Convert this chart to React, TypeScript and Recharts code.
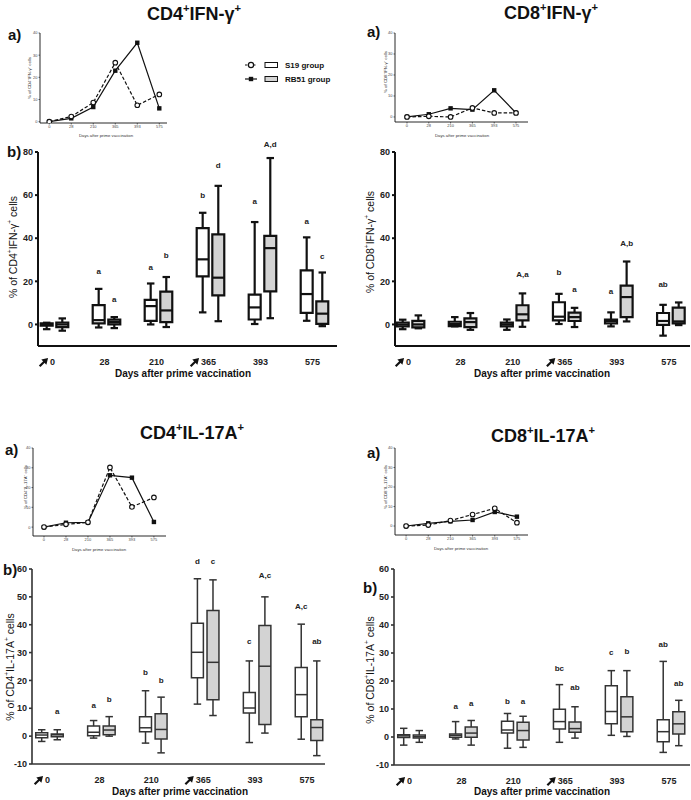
import React from 'react';
import {
  ComposedChart,
  LineChart,
  Line,
  XAxis,
  YAxis,
  Scatter,
  ReferenceArea,
  ReferenceLine,
  ReferenceDot,
} from 'recharts';

const FONT = '"Liberation Sans", Arial, Helvetica, sans-serif';

const dayLabels = ['0', '28', '210', '365', '393', '575'];
const boosterDays = ['0', '365'];
const groupNames = ['S19 group', 'RB51 group'];
const dayIdx = [0, 1, 2, 3, 4, 5];

// ---- a) small line charts (group values) ----
const cd4IfnS19Line = [0, 2.3, 8.6, 26.6, 7.4, 12.3];
const cd4IfnRB51Line = [0, 1.5, 6.6, 23.0, 35.6, 6.0];
const cd8IfnS19Line = [0, 0.3, 0, 4.3, 1.9, 1.9];
const cd8IfnRB51Line = [0, 1.3, 4.1, 3.5, 12.7, 1.9];
const cd4Il17S19Line = [0, 1.4, 2.4, 30.2, 10.2, 15.0];
const cd4Il17RB51Line = [0, 2.2, 2.4, 26.2, 25.0, 2.6];
const cd8Il17S19Line = [0, 0.5, 2.8, 5.9, 9.1, 1.7];
const cd8Il17RB51Line = [0, 1.4, 2.4, 3.1, 7.2, 4.8];

// ---- b) box plots: [min, q1, median, q3, max] per day ----
const cd4IfnS19Box = [
  [-2.2, -0.6, 0, 0.5, 0.8],
  [-1.4, 0.5, 2.0, 9.0, 16.5],
  [0, 1.7, 8.5, 11.4, 19.0],
  [5.6, 22.3, 30.2, 44.7, 51.8],
  [0.2, 2.3, 7.9, 13.8, 47.5],
  [1.7, 5.4, 14.1, 25.1, 40.4],
];
const cd4IfnRB51Box = [
  [-2.9, -1.2, 0, 0.9, 2.8],
  [-1.7, 0, 1.1, 2.2, 3.4],
  [-1.2, 1.1, 6.5, 15.2, 22.0],
  [1.5, 13.5, 21.7, 41.8, 64.3],
  [2.9, 15.3, 35.4, 41.1, 77.2],
  [-0.8, 0.3, 5.0, 10.7, 24.1],
];
const cd8IfnS19Box = [
  [-2.2, -0.9, 0, 0.9, 2.2],
  [-0.9, -0.8, 0.2, 1.25, 3.4],
  [-2.5, -0.9, 0, 0.8, 2.3],
  [0.2, 1.9, 3.6, 10.3, 14.2],
  [-0.9, 0.5, 1.6, 2.3, 5.6],
  [-5.2, -0.2, 1.6, 5.3, 9.1],
];
const cd8IfnRB51Box = [
  [-1.8, -1.4, 0, 1.7, 4.2],
  [-2.5, -1.2, 1.1, 2.8, 5.3],
  [-1.1, 1.9, 4.7, 8.9, 14.4],
  [-1.2, 1.6, 3.4, 5.5, 7.7],
  [1.4, 3.4, 12.7, 18.0, 29.2],
  [-0.3, 0.5, 1.4, 7.8, 10.2],
];
const cd4Il17S19Box = [
  [-1.9, -0.6, 0.4, 1.2, 2.3],
  [-0.7, 0.1, 1.4, 3.6, 5.6],
  [-2.5, 1.6, 3.0, 7.0, 16.3],
  [11.5, 21.0, 30.1, 40.5, 56.5],
  [-2.3, 8.3, 10.1, 15.7, 27.0],
  [-1.1, 7.0, 14.9, 24.6, 40.2],
];
const cd4Il17RB51Box = [
  [-1.3, -0.2, 0.5, 0.8, 2.3],
  [0, 0.5, 2.2, 3.6, 7.0],
  [-6.0, -1.0, 2.4, 8.0, 14.0],
  [7.4, 13.1, 26.5, 45.1, 56.1],
  [1.1, 4.2, 25.1, 39.7, 50.0],
  [-7.0, -1.6, 3.1, 5.9, 27.0],
];
const cd8Il17S19Box = [
  [-2.9, -0.2, 0.4, 0.8, 3.1],
  [-0.7, -0.1, 0.6, 1.1, 5.5],
  [-4.0, 1.4, 2.5, 5.6, 8.4],
  [-1.9, 2.9, 5.5, 9.9, 18.7],
  [0.6, 4.7, 9.1, 18.3, 23.7],
  [-5.5, -1.7, 1.9, 6.2, 27.0],
];
const cd8Il17RB51Box = [
  [-1.9, -0.4, 0.1, 0.7, 2.3],
  [-2.9, -0.1, 1.4, 3.6, 5.9],
  [-3.7, -1.1, 2.3, 5.3, 7.4],
  [-0.4, 1.7, 3.0, 5.4, 10.8],
  [0.2, 1.9, 7.2, 14.4, 23.7],
  [-3.1, 1.1, 4.7, 9.0, 13.1],
];

// ---- significance letters: [day index, group (0=S19, 1=RB51), y, text] ----
type Letter = [number, number, number, string];
const cd4IfnLetters: Letter[] = [
  [1, 0, 25, 'a'], [1, 1, 11.6, 'a'], [2, 0, 26.6, 'a'], [2, 1, 32.3, 'b'],
  [3, 0, 60.2, 'b'], [3, 1, 73.8, 'd'], [4, 0, 57.2, 'a'], [4, 1, 83.5, 'A,d'],
  [5, 0, 48.1, 'a'], [5, 1, 31.6, 'c'],
];
const cd8IfnLetters: Letter[] = [
  [2, 1, 23.3, 'A,a'], [3, 0, 24.2, 'b'], [3, 1, 16.4, 'a'], [4, 0, 15.6, 'a'],
  [4, 1, 37.6, 'A,b'], [5, 0, 18.6, 'ab'],
];
const cd4Il17Letters: Letter[] = [
  [0, 1, 9.1, 'a'], [1, 0, 11.2, 'a'], [1, 1, 13.4, 'b'], [2, 0, 23, 'b'],
  [2, 1, 20, 'b'], [3, 0, 62.7, 'd'], [3, 1, 62.7, 'c'], [4, 0, 34.2, 'c'],
  [4, 1, 57.9, 'A,c'], [5, 0, 46.8, 'A,c'], [5, 1, 34.2, 'ab'],
];
const cd8Il17Letters: Letter[] = [
  [1, 0, 11.1, 'a'], [1, 1, 12.3, 'a'], [2, 0, 13, 'b'], [2, 1, 12.9, 'a'],
  [3, 0, 24.7, 'bc'], [3, 1, 18, 'ab'], [4, 0, 30.4, 'c'], [4, 1, 30.8, 'b'],
  [5, 0, 33.2, 'ab'], [5, 1, 19.3, 'ab'],
];

const ticksIfn = [0, 20, 40, 60, 80];
const ticksIl17 = [-10, 0, 10, 20, 30, 40, 50, 60];
const ticksSmall = [0, 10, 20, 30, 40];

// geometry constants (in x-axis units)
const OFF = 0.15;
const HW = 0.115;
const CAP = 0.072;

type Rect = { l: number; r: number; t: number; b: number };

function DayTick(props: any) {
  const { x, y, payload } = props;
  const label = dayLabels[payload.value] ?? '';
  const hw = label.length * 2.5;
  return (
    <g transform={`translate(${x - 2},${y})`}>
      <text x={0} y={17} textAnchor="middle" fontSize={9} fontWeight="bold" fill="#222">
        {label}
      </text>
      {boosterDays.includes(label) && (
        <g transform={`translate(${-hw - 6.5},${14.5}) scale(1.2)`}>
          <path d="M3.8,-3.8 L-1.8,-2.4 L2.4,1.8 Z" fill="#111" />
          <line x1={0.8} y1={-0.8} x2={-3.2} y2={3.2} stroke="#111" strokeWidth={1.8} />
        </g>
      )}
    </g>
  );
}

function BoxPanel(p: {
  left: number; top: number; width: number; height: number; plot: Rect;
  xDomain: [number, number]; yDomain: [number, number]; yTicks: number[];
  s19: number[][]; rb51: number[][]; letters: Letter[]; sw: number; ink: string; axisW: number;
}) {
  const margin = { top: p.plot.t - p.top, right: p.left + p.width - p.plot.r, bottom: 0, left: 0 };
  const yW = p.plot.l - p.left;
  const xH = p.top + p.height - p.plot.b;
  const groups = [
    { stats: p.s19, fill: '#ffffff', dx: -OFF },
    { stats: p.rb51, fill: '#d3d3d3', dx: OFF },
  ];
  const areas: React.ReactNode[] = [];
  const lines: React.ReactNode[] = [];
  groups.forEach((g, gi) =>
    g.stats.forEach((s, i) => {
      const c = dayIdx[i] + g.dx;
      const [mn, q1, , q3, mx] = s;
      const common = { stroke: p.ink, strokeWidth: p.sw, ifOverflow: 'visible' as const };
      lines.push(<ReferenceLine key={`wu${gi}${i}`} segment={[{ x: c, y: q3 }, { x: c, y: mx }]} {...common} />);
      lines.push(<ReferenceLine key={`wl${gi}${i}`} segment={[{ x: c, y: mn }, { x: c, y: q1 }]} {...common} />);
      lines.push(<ReferenceLine key={`cu${gi}${i}`} segment={[{ x: c - CAP, y: mx }, { x: c + CAP, y: mx }]} {...common} />);
      lines.push(<ReferenceLine key={`cl${gi}${i}`} segment={[{ x: c - CAP, y: mn }, { x: c + CAP, y: mn }]} {...common} />);
      areas.push(
        <ReferenceArea
          key={`b${gi}${i}`}
          x1={c - HW}
          x2={c + HW}
          y1={q1}
          y2={q3}
          fill={g.fill}
          fillOpacity={1}
          stroke={p.ink}
          strokeWidth={p.sw}
          ifOverflow="visible"
        />
      );
    })
  );
  const medians = groups.map((g) => g.stats.map((s, i) => ({ x: dayIdx[i] + g.dx, y: s[2] })));
  const halfPx = ((p.plot.r - p.plot.l) / (p.xDomain[1] - p.xDomain[0])) * HW;
  return (
    <div style={{ position: 'absolute', left: p.left, top: p.top }}>
      <ComposedChart width={p.width} height={p.height} margin={margin}>
        <XAxis
          type="number"
          dataKey="x"
          domain={p.xDomain}
          ticks={dayIdx}
          interval={0}
          allowDataOverflow
          height={xH}
          tickSize={0}
          tickLine={false}
          axisLine={{ stroke: p.ink, strokeWidth: p.axisW }}
          tick={(tp: any) => <DayTick {...tp} />}
        />
        <YAxis
          type="number"
          dataKey="y"
          domain={p.yDomain}
          ticks={p.yTicks}
          interval={0}
          allowDataOverflow
          width={yW}
          tickSize={3}
          tickMargin={2}
          axisLine={{ stroke: p.ink, strokeWidth: p.axisW }}
          tickLine={{ stroke: p.ink, strokeWidth: p.axisW }}
          tick={{ fontSize: 9, fontWeight: 'bold', fill: '#222' }}
        />
        {areas}
        {lines}
        {medians.map((d, gi) => (
          <Scatter
            key={`m${gi}`}
            data={d}
            isAnimationActive={false}
            shape={(sp: any) =>
              sp.cx == null ? <g /> : (
                <line x1={sp.cx - halfPx} x2={sp.cx + halfPx} y1={sp.cy} y2={sp.cy} stroke={p.ink} strokeWidth={p.sw} />
              )
            }
          />
        ))}
        {p.letters.map(([d, g, y, t], k) => (
          <ReferenceDot
            key={`l${k}`}
            x={d + (g ? OFF : -OFF)}
            y={y}
            r={2}
            ifOverflow="visible"
            shape={(dp: any) => (
              <text x={dp.cx} y={dp.cy} dy={3} textAnchor="middle" fontSize={8} fontWeight="bold" fill="#222">
                {t}
              </text>
            )}
          />
        ))}
      </ComposedChart>
    </div>
  );
}

function LinePanel(p: {
  left: number; top: number; width: number; height: number; plot: Rect;
  xDomain: [number, number]; yMin: number; s19: number[]; rb51: number[];
}) {
  const margin = { top: p.plot.t - p.top, right: p.left + p.width - p.plot.r, bottom: 0, left: 0 };
  const yW = p.plot.l - p.left;
  const xH = p.top + p.height - p.plot.b;
  const data = dayIdx.map((i) => ({ x: i, s19: p.s19[i], rb51: p.rb51[i] }));
  return (
    <div style={{ position: 'absolute', left: p.left, top: p.top }}>
      <LineChart width={p.width} height={p.height} margin={margin} data={data}>
        <XAxis
          type="number"
          dataKey="x"
          domain={p.xDomain}
          ticks={dayIdx}
          interval={0}
          allowDataOverflow
          height={xH}
          tickSize={1.5}
          tickMargin={1}
          tickFormatter={(v: number) => dayLabels[v]}
          axisLine={{ stroke: '#111', strokeWidth: 0.9 }}
          tickLine={{ stroke: '#111', strokeWidth: 0.6 }}
          tick={{ fontSize: 4, fill: '#444' }}
        />
        <YAxis
          type="number"
          domain={[p.yMin, 40]}
          ticks={ticksSmall}
          interval={0}
          allowDataOverflow
          width={yW}
          tickSize={1.5}
          tickMargin={1}
          axisLine={{ stroke: '#111', strokeWidth: 0.9 }}
          tickLine={{ stroke: '#111', strokeWidth: 0.6 }}
          tick={{ fontSize: 4, fill: '#444' }}
        />
        <Line
          dataKey="rb51"
          name={groupNames[1]}
          stroke="#111"
          strokeWidth={1.2}
          isAnimationActive={false}
          dot={(dp: any) => <rect key={`r${dp.index}`} x={dp.cx - 2.2} y={dp.cy - 2.2} width={4.4} height={4.4} fill="#111" />}
        />
        <Line
          dataKey="s19"
          name={groupNames[0]}
          stroke="#111"
          strokeWidth={1.2}
          strokeDasharray="3.5 2"
          isAnimationActive={false}
          dot={(dp: any) => <circle key={`c${dp.index}`} cx={dp.cx} cy={dp.cy} r={2.3} fill="#fff" stroke="#111" strokeWidth={1.1} />}
        />
      </LineChart>
    </div>
  );
}

function SupText(p: {
  x: number; y: number; parts: string[]; size: number; weight?: string; anchor?: string; rotate?: boolean; fill?: string;
}) {
  const up = p.size * 0.42;
  let shifted = false;
  const spans = p.parts.map((pt, i) => {
    const isSup = i % 2 === 1;
    let dy = 0;
    if (isSup && !shifted) {
      dy = -up;
      shifted = true;
    } else if (!isSup && shifted) {
      dy = up;
      shifted = false;
    }
    return (
      <tspan key={i} dy={dy} fontSize={isSup ? p.size * 0.62 : p.size}>
        {pt}
      </tspan>
    );
  });
  const common = {
    textAnchor: (p.anchor ?? 'middle') as any,
    fontWeight: p.weight ?? 'normal',
    fill: p.fill ?? '#111',
    fontSize: p.size,
  };
  if (p.rotate) {
    return (
      <text transform={`translate(${p.x},${p.y}) rotate(-90)`} x={0} y={p.size * 0.35} {...common}>
        {spans}
      </text>
    );
  }
  return (
    <text x={p.x} y={p.y} {...common}>
      {spans}
    </text>
  );
}

const xTitle = 'Days after prime vaccination';

export default function App() {
  return (
    <div
      style={{
        position: 'absolute',
        left: 0,
        top: 0,
        width: 691,
        height: 800,
        background: '#fff',
        overflow: 'hidden',
        fontFamily: FONT,
      }}
    >
      {/* a) small line charts */}
      <LinePanel left={0} top={25} width={180} height={115} plot={{ l: 40, r: 167, t: 33, b: 123 }}
        xDomain={[-0.42, 5.35]} yMin={-0.6} s19={cd4IfnS19Line} rb51={cd4IfnRB51Line} />
      <LinePanel left={345} top={25} width={200} height={115} plot={{ l: 395, r: 528, t: 33, b: 122 }}
        xDomain={[-0.55, 5.55]} yMin={-2.4} s19={cd8IfnS19Line} rb51={cd8IfnRB51Line} />
      <LinePanel left={0} top={440} width={180} height={115} plot={{ l: 33, r: 166, t: 448, b: 536 }}
        xDomain={[-0.5, 5.55]} yMin={-4.5} s19={cd4Il17S19Line} rb51={cd4Il17RB51Line} />
      <LinePanel left={345} top={440} width={200} height={115} plot={{ l: 395, r: 528, t: 448, b: 535 }}
        xDomain={[-0.5, 5.5]} yMin={-4.6} s19={cd8Il17S19Line} rb51={cd8Il17RB51Line} />

      {/* b) box plots */}
      <BoxPanel left={0} top={140} width={345} height={250} plot={{ l: 38, r: 337, t: 152, b: 346 }}
        xDomain={[-0.317, 5.433]} yDomain={[-10, 80]} yTicks={ticksIfn}
        s19={cd4IfnS19Box} rb51={cd4IfnRB51Box} letters={cd4IfnLetters} sw={2.2} ink="#111" axisW={2} />
      <BoxPanel left={345} top={140} width={346} height={250} plot={{ l: 395, r: 690, t: 152, b: 346 }}
        xDomain={[-0.298, 5.367]} yDomain={[-10, 80]} yTicks={ticksIfn}
        s19={cd8IfnS19Box} rb51={cd8IfnRB51Box} letters={cd8IfnLetters} sw={2.2} ink="#111" axisW={2} />
      <BoxPanel left={0} top={555} width={345} height={245} plot={{ l: 32, r: 325, t: 569, b: 764 }}
        xDomain={[-0.337, 5.308]} yDomain={[-10, 60]} yTicks={ticksIl17}
        s19={cd4Il17S19Box} rb51={cd4Il17RB51Box} letters={cd4Il17Letters} sw={1.5} ink="#333" axisW={1.6} />
      <BoxPanel left={345} top={555} width={346} height={245} plot={{ l: 394, r: 690, t: 569, b: 765 }}
        xDomain={[-0.337, 5.366]} yDomain={[-10, 60]} yTicks={ticksIl17}
        s19={cd8Il17S19Box} rb51={cd8Il17RB51Box} letters={cd8Il17Letters} sw={1.5} ink="#333" axisW={1.6} />

      {/* texts overlay */}
      <svg width={691} height={800} style={{ position: 'absolute', left: 0, top: 0, pointerEvents: 'none' }}>
        <SupText x={194} y={20} parts={['CD4', '+', 'IFN-γ', '+']} size={18} weight="bold" />
        <SupText x={551} y={19} parts={['CD8', '+', 'IFN-γ', '+']} size={18} weight="bold" />
        <SupText x={192} y={438.5} parts={['CD4', '+', 'IL-17A', '+']} size={18} weight="bold" />
        <SupText x={543} y={441.5} parts={['CD8', '+', 'IL-17A', '+']} size={18} weight="bold" />

        <text x={8} y={40} fontSize={15} fontWeight="bold" fill="#111">a)</text>
        <text x={367} y={37} fontSize={15} fontWeight="bold" fill="#111">a)</text>
        <text x={5} y={455} fontSize={15} fontWeight="bold" fill="#111">a)</text>
        <text x={367} y={458} fontSize={15} fontWeight="bold" fill="#111">a)</text>
        <text x={7} y={157} fontSize={15} fontWeight="bold" fill="#111">b)</text>
        <text x={3} y={575} fontSize={15} fontWeight="bold" fill="#111">b)</text>
        <text x={363} y={593} fontSize={15} fontWeight="bold" fill="#111">b)</text>

        {/* box plot axis titles */}
        <SupText x={13} y={247} parts={['% of CD4', '+', 'IFN-γ', '+', ' cells']} size={10.5} rotate />
        <SupText x={370} y={242} parts={['% of CD8', '+', 'IFN-γ', '+', ' cells']} size={10.5} rotate />
        <SupText x={10} y={667} parts={['% of CD4', '+', 'IL-17A', '+', ' cells']} size={10.5} rotate />
        <SupText x={370} y={670} parts={['% of CD8', '+', 'IL-17A', '+', ' cells']} size={10.5} rotate />
        <text x={183} y={377} fontSize={10} fontWeight="bold" textAnchor="middle" fill="#111">{xTitle}</text>
        <text x={542} y={377} fontSize={10} fontWeight="bold" textAnchor="middle" fill="#111">{xTitle}</text>
        <text x={180} y={795} fontSize={10} fontWeight="bold" textAnchor="middle" fill="#111">{xTitle}</text>
        <text x={542} y={795} fontSize={10} fontWeight="bold" textAnchor="middle" fill="#111">{xTitle}</text>

        {/* small chart axis titles */}
        <text x={106} y={136.5} fontSize={4.3} textAnchor="middle" fill="#333">{xTitle}</text>
        <text x={462} y={136.5} fontSize={4.3} textAnchor="middle" fill="#333">{xTitle}</text>
        <text x={99} y={550.5} fontSize={4.3} textAnchor="middle" fill="#333">{xTitle}</text>
        <text x={461} y={549.5} fontSize={4.3} textAnchor="middle" fill="#333">{xTitle}</text>
        <SupText x={29.5} y={78} parts={['% of CD4', '+', 'IFN-γ', '+', ' cells']} size={4.3} rotate fill="#333" />
        <SupText x={385.5} y={72} parts={['% of CD8', '+', 'IFN-γ', '+', ' cells']} size={4.3} rotate fill="#333" />
        <SupText x={25.5} y={487} parts={['% of CD4', '+', 'IL-17A', '+', ' cells']} size={4.3} rotate fill="#333" />
        <SupText x={385.5} y={487} parts={['% of CD8', '+', 'IL-17A', '+', ' cells']} size={4.3} rotate fill="#333" />

        {/* legend */}
        <line x1={245} x2={257} y1={65} y2={65} stroke="#111" strokeWidth={1.2} strokeDasharray="2.5 1.5" />
        <circle cx={251} cy={65} r={2.6} fill="#fff" stroke="#111" strokeWidth={1.2} />
        <rect x={265} y={62.5} width={12.5} height={5} fill="#fff" stroke="#111" strokeWidth={1} />
        <text x={285} y={68} fontSize={8} fontWeight="bold" fill="#111">{groupNames[0]}</text>
        <line x1={245} x2={257} y1={79} y2={79} stroke="#111" strokeWidth={1.2} />
        <rect x={248.8} y={76.8} width={4.4} height={4.4} fill="#111" />
        <rect x={265} y={76.5} width={12.5} height={5} fill="#d3d3d3" stroke="#111" strokeWidth={1} />
        <text x={285} y={82} fontSize={8} fontWeight="bold" fill="#111">{groupNames[1]}</text>
      </svg>
    </div>
  );
}
